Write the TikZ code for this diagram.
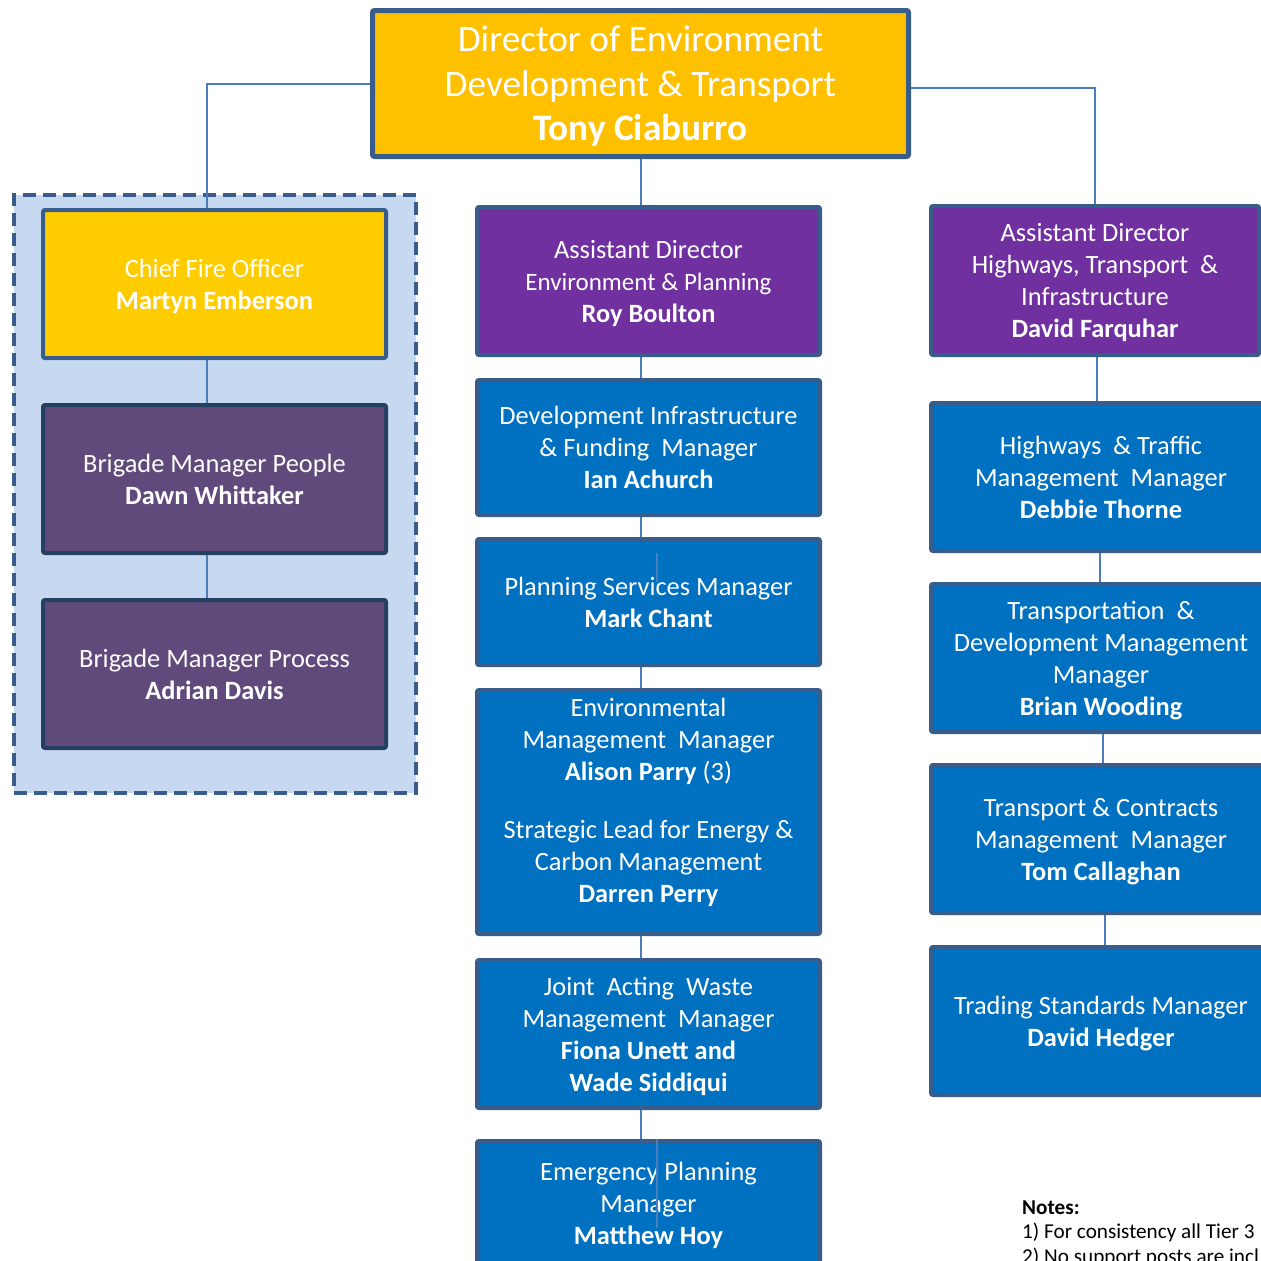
\documentclass[tikz,border=0pt]{standalone}
\usepackage{fontspec}
\setmainfont{Carlito}
\usetikzlibrary{positioning}

\definecolor{edgeblue}{HTML}{385D8A}
\definecolor{navyedge}{HTML}{243F60}
\definecolor{linkblue}{HTML}{4A7EBB}
\definecolor{dirgold}{HTML}{FFC000}
\definecolor{firegold}{HTML}{FFCC00}
\definecolor{adpurple}{HTML}{7030A0}
\definecolor{bmplum}{HTML}{604A7B}
\definecolor{mgrblue}{HTML}{0070C0}
\definecolor{groupfill}{HTML}{C6D9F1}

\begin{document}
\begin{tikzpicture}[x=1pt,y=-1pt,
  post/.style={draw=edgeblue, line width=4pt, rounded corners=2pt, fill=mgrblue,
    minimum width=343pt, minimum height=148pt, inner sep=0pt, align=center, text depth=0pt,
    text=white, font=\fontsize{26.4}{32}\selectfont},
  rpost/.style={post, minimum width=340pt},
  posttext/.style={inner sep=0pt, align=center, text depth=0pt, text=white, font=\fontsize{26.4}{32}\selectfont},
  firegrp/.style={draw=edgeblue, line width=4pt, fill=groupfill, dash pattern=on 13pt off 7pt,
    minimum width=402pt, minimum height=598pt},
  link/.style={draw=linkblue, line width=2pt},
  notes/.style={inner sep=0pt, align=left, anchor=base west, font=\fontsize{21.2}{24.5}\selectfont}]
\useasboundingbox (0,0) rectangle (1261,1261);
\clip (0,0) rectangle (1261,1261);

% director
\node[post, fill=dirgold, line width=5pt, minimum width=536pt, minimum height=146pt,
  font=\fontsize{37.3}{44.5}\selectfont] (dir) at (640.5,83.5)
  {Director of Environment\\Development \& Transport\\\textbf{Tony Ciaburro}};

% fire service group
\node[firegrp] (fire) at (215,494) {};
\node[post, fill=firegold] (cfo) at (214.5,284) {Chief Fire Officer\\\textbf{Martyn Emberson}};
\node[post, fill=bmplum, draw=navyedge, below=43pt of cfo] (bmpe) {Brigade Manager People\\\textbf{Dawn Whittaker}};
\node[post, fill=bmplum, draw=navyedge, below=43pt of bmpe] (bmpr) {Brigade Manager Process\\\textbf{Adrian Davis}};

% environment & planning
\node[post, fill=adpurple] (ade) at (648.5,281)
  {Assistant Director\\{\fontsize{25}{32}\selectfont Environment \& Planning}\\\textbf{Roy Boulton}};
\node[post, minimum height=135pt, below=21pt of ade] (dif) {Development Infrastructure\\\& Funding~ Manager\\\textbf{Ian Achurch}};
\node[post, minimum height=126pt, below=20pt of dif] (psm) {Planning Services Manager\\\textbf{Mark Chant}};
\node[post, minimum height=244pt, below=21pt of psm] (emm) {};
\node[posttext] (emm-t) at ([yshift=12pt]emm.center) {Environmental\\Management~ Manager\\\textbf{Alison Parry} (3)\\[26pt]Strategic Lead for Energy \&\\Carbon Management\\\textbf{Darren Perry}};
\node[post, below=22pt of emm] (jaw) {Joint~ Acting~ Waste\\Management~ Manager\\\textbf{Fiona Unett and}\\\textbf{Wade Siddiqui}};
\node[post, minimum height=124pt, below=29pt of jaw] (epm) {Emergency Planning\\Manager\\\textbf{Matthew Hoy}};

% highways, transport & infrastructure
\node[post, fill=adpurple, minimum width=328pt, minimum height=149pt] (adh) at (1095,280.5)
  {Assistant Director\\Highways, Transport~ \&\\Infrastructure\\\textbf{David Farquhar}};
\node[rpost] (htm) at (1101,477) {Highways~ \& Traffic\\Management~ Manager\\\textbf{Debbie Thorne}};
\node[rpost, below=29pt of htm] (tdm) {Transportation~ \&\\Development Management\\Manager\\\textbf{Brian Wooding}};
\node[rpost, below=29pt of tdm] (tcm) {Transport \& Contracts\\Management~ Manager\\\textbf{Tom Callaghan}};
\node[rpost, below=30pt of tcm] (tsm) {Trading Standards Manager\\\textbf{David Hedger}};

% connectors
\draw[link] (dir.west) -| ([xshift=-7.5pt]cfo.north);
\draw[link] (dir.south) -- (dir.south |- ade.north);
\draw[link] ([yshift=-4.5pt]dir.east) -| (adh.north);
\foreach \a/\b in {cfo/bmpe, bmpe/bmpr}
  \draw[link] ([xshift=-7.5pt]\a.south) -- ([xshift=-7.5pt]\b.north);
\foreach \a/\b in {ade/dif, dif/psm, psm/emm, emm/jaw, jaw/epm}
  \draw[link] ([xshift=-7.5pt]\a.south) -- ([xshift=-7.5pt]\b.north);
\draw[link] ([xshift=2pt]adh.south) -- ([xshift=2pt]adh.south |- htm.north);
\foreach \a/\b/\s in {htm/tdm/-1, tdm/tcm/2, tcm/tsm/4}
  \draw[link] ([xshift=\s pt]\a.south) -- ([xshift=\s pt]\a.south |- \b.north);
\draw[link, line width=1.2pt] (657,553) -- (657,582);
\draw[link, line width=1.2pt] (657,1139) -- (657,1228);

% notes
\node[notes] (notes) at (1022,1263) {\textbf{Notes:}\\1) For consistency all Tier 3\\2) No support posts are incl};
\end{tikzpicture}
\end{document}
